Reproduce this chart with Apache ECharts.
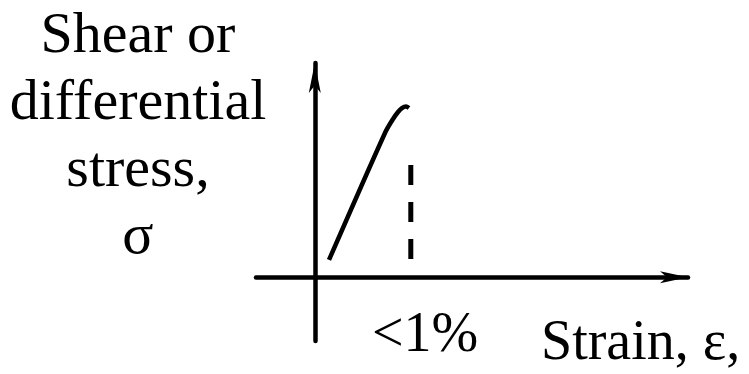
<!DOCTYPE html>
<html>
<head>
<meta charset="utf-8">
<script src="https://cdn.jsdelivr.net/npm/echarts@6/dist/echarts.min.js"></script>
<style>
  html, body { margin: 0; padding: 0; background: #fff; }
  #chart { width: 749px; height: 374px; }
</style>
</head>
<body>
<div id="chart"></div>
<script>
// Stress–strain sketch: elastic loading up to failure at under 1% strain.
// Strain in percent, stress in arbitrary units (peak = 100).
const curveStrain = [0.148, 0.731, 0.815, 0.867, 0.908, 0.950, 0.981];
const curveStress = [10.1, 84.5, 92.7, 96.8, 99.1, 100.0, 99.1];

// Vertical marker at the failure strain
const markerStrain = [1.0, 1.0];
const markerStress = [65.7, 10.1];

const yTitleLines = ['Shear or', 'differential', 'stress,', 'σ'];
const xTitle = 'Strain, ε,';
const markerLabel = '<1%';

const FONT = '"Liberation Serif", "Times New Roman", serif';

const curveData = curveStrain.map((x, i) => [x, curveStress[i]]);
const markerData = markerStrain.map((x, i) => [x, markerStress[i]]);

const chart = echarts.init(document.getElementById('chart'), null, { renderer: 'canvas' });

const axisCommon = {
  type: 'value',
  splitLine: { show: false },
  axisTick: { show: false },
  axisLabel: { show: false },
  axisLine: {
    show: true,
    onZero: true,
    symbol: ['none', 'arrow'],
    lineStyle: { color: '#000', width: 4.5 }
  }
};

chart.setOption({
  animation: false,
  backgroundColor: '#fff',
  grid: { left: 256, right: 61, top: 63, bottom: 33 },
  xAxis: Object.assign({}, axisCommon, {
    min: -0.6125, max: 3.8875,
    axisLine: Object.assign({}, axisCommon.axisLine, { symbolSize: [9, 28] })
  }),
  yAxis: Object.assign({}, axisCommon, {
    min: -37.4, max: 125.5,
    axisLine: Object.assign({}, axisCommon.axisLine, { symbolSize: [9, 30] })
  }),
  series: [
    {
      type: 'line',
      data: curveData,
      smooth: 0.3,
      showSymbol: false,
      lineStyle: { color: '#000', width: 4.5 }
    },
    {
      type: 'line',
      data: markerData,
      showSymbol: false,
      lineStyle: { color: '#000', width: 5, type: [20, 17] }
    }
  ],
  graphic: [
    {
      type: 'text',
      x: 138, y: 3,
      style: {
        text: yTitleLines.join('\n'),
        font: '58px ' + FONT,
        lineHeight: 67,
        align: 'center',
        verticalAlign: 'top',
        fill: '#000'
      }
    },
    {
      type: 'text',
      x: 372, y: 336,
      style: {
        text: markerLabel,
        font: '56px ' + FONT,
        align: 'left',
        verticalAlign: 'middle',
        fill: '#000'
      }
    },
    {
      type: 'text',
      x: 541, y: 344,
      style: {
        text: xTitle,
        font: '56px ' + FONT,
        align: 'left',
        verticalAlign: 'middle',
        fill: '#000'
      }
    }
  ]
});
</script>
</body>
</html>
